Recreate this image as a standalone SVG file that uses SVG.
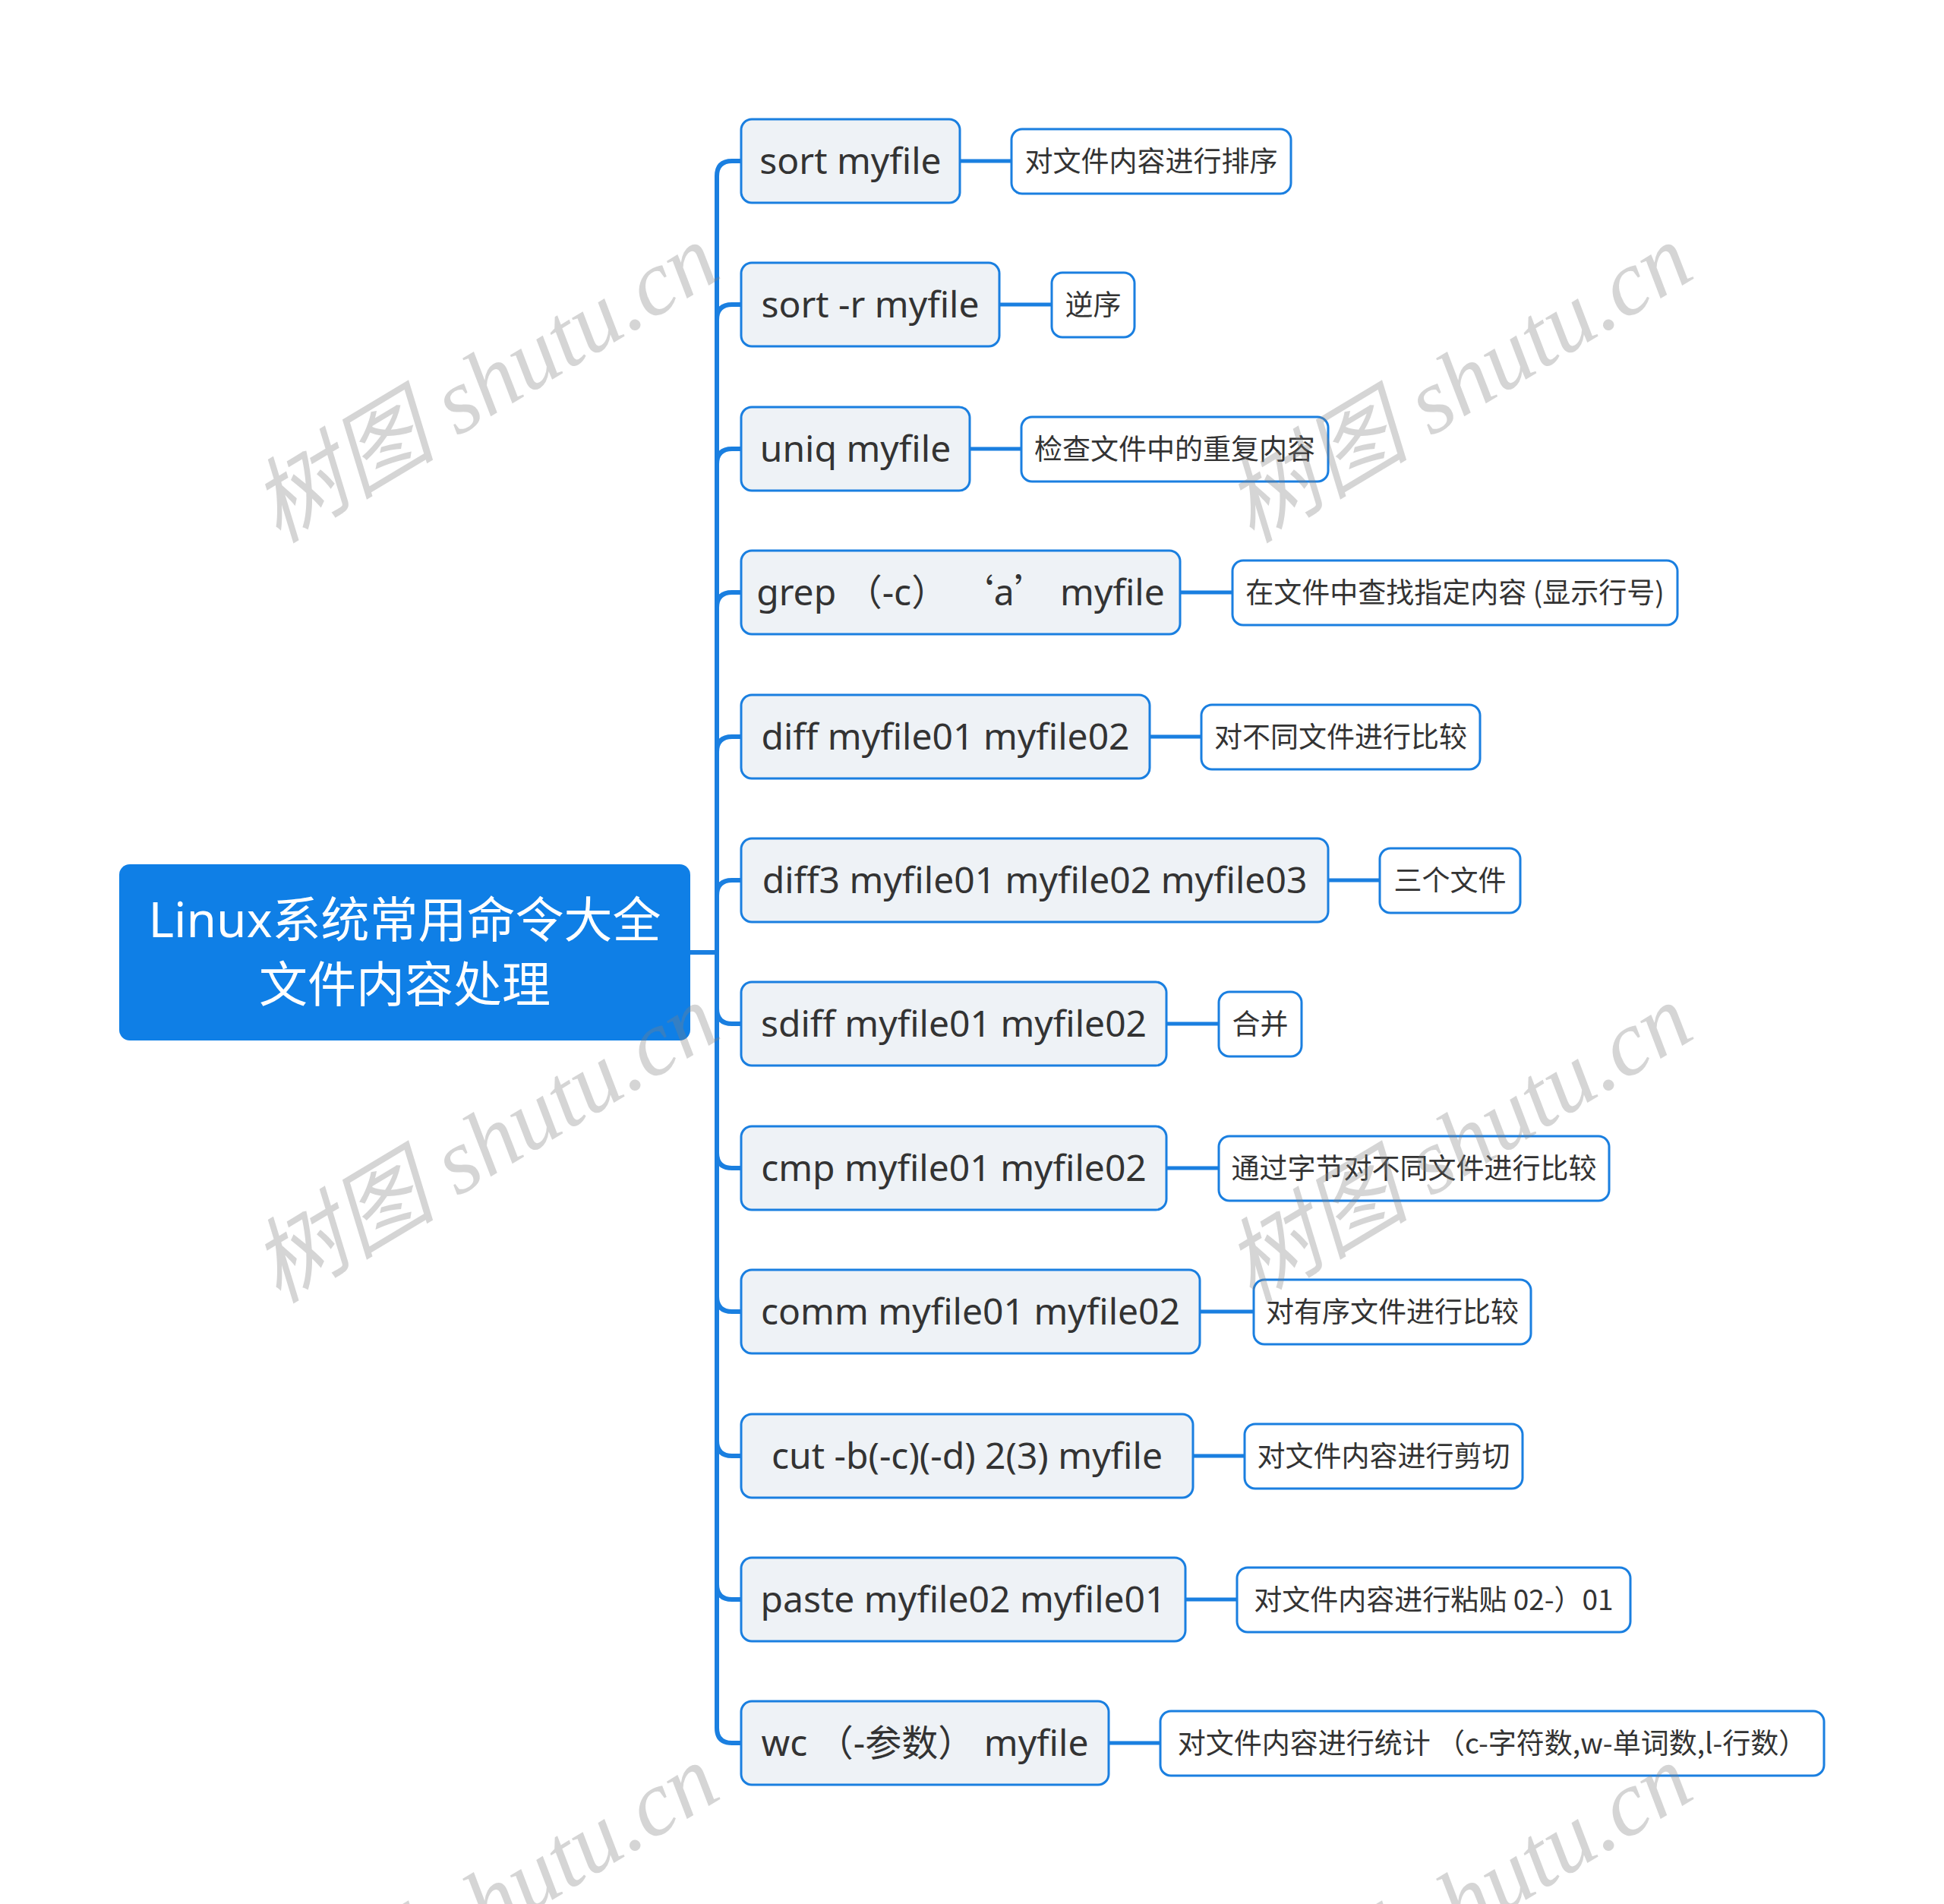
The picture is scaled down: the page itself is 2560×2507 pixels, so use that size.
<svg xmlns="http://www.w3.org/2000/svg" width="2560" height="2507" viewBox="0 0 2560 2507">
<style>
.root{fill:#0f7fe6;}
.child{fill:#eef2f6;stroke:#1a7fe0;stroke-width:3;}
.leaf{fill:#ffffff;stroke:#1a7fe0;stroke-width:3;}
.ct{font-family:"Noto Sans","Noto Sans CJK SC",sans-serif;font-size:48px;fill:#333333;text-anchor:middle;}
.lt{font-family:"Noto Sans CJK SC","Noto Sans",sans-serif;font-size:37px;fill:#333333;text-anchor:middle;}
.rt{font-family:"Noto Sans","Noto Sans CJK SC",sans-serif;font-size:64px;fill:#ffffff;text-anchor:middle;}
.q{font-family:"Noto Sans CJK SC",sans-serif;}
.conn path{fill:none;stroke:#1a7fe0;stroke-linecap:round;}
.spine{stroke-width:6;}
.link{stroke-width:5;}
.wm{font-family:"Liberation Serif","Noto Sans CJK SC",serif;font-style:italic;font-size:122px;fill:#808080;fill-opacity:0.33;text-anchor:middle;}
</style>
<rect width="2560" height="2507" fill="#ffffff"/>
<g class="conn" id="connectors">
<path class="spine" d="M909 1254 H944"/>
<path class="spine" d="M944 1254 V232 Q944 212 964 212 H976"/>
<path class="spine" d="M944 1254 V421 Q944 401 964 401 H976"/>
<path class="spine" d="M944 1254 V611 Q944 591 964 591 H976"/>
<path class="spine" d="M944 1254 V800 Q944 780 964 780 H976"/>
<path class="spine" d="M944 1254 V990 Q944 970 964 970 H976"/>
<path class="spine" d="M944 1254 V1179 Q944 1159 964 1159 H976"/>
<path class="spine" d="M944 1254 V1328 Q944 1348 964 1348 H976"/>
<path class="spine" d="M944 1254 V1518 Q944 1538 964 1538 H976"/>
<path class="spine" d="M944 1254 V1707 Q944 1727 964 1727 H976"/>
<path class="spine" d="M944 1254 V1897 Q944 1917 964 1917 H976"/>
<path class="spine" d="M944 1254 V2086 Q944 2106 964 2106 H976"/>
<path class="spine" d="M944 1254 V2275 Q944 2295 964 2295 H976"/>
<path class="link" d="M1264 212 H1332"/>
<path class="link" d="M1316 401 H1385"/>
<path class="link" d="M1277 591 H1345"/>
<path class="link" d="M1554 780 H1623"/>
<path class="link" d="M1514 970 H1582"/>
<path class="link" d="M1749 1159 H1817"/>
<path class="link" d="M1536 1348 H1605"/>
<path class="link" d="M1536 1538 H1605"/>
<path class="link" d="M1580 1727 H1651"/>
<path class="link" d="M1571 1917 H1639"/>
<path class="link" d="M1561 2106 H1629"/>
<path class="link" d="M1460 2295 H1528"/>
</g>
<g id="root">
<rect class="root" x="157" y="1138" width="752" height="232" rx="14"/>
<text class="rt" x="533" y="1234">Linux系统常用命令大全</text>
<text class="rt" x="533" y="1319">文件内容处理</text>
</g>
<g id="n1"><rect class="child" x="976" y="157" width="288" height="110" rx="14"/><text class="ct" x="1120" y="229">sort myfile</text></g>
<g id="n2"><rect class="child" x="976" y="346" width="340" height="110" rx="14"/><text class="ct" x="1146" y="418">sort -r myfile</text></g>
<g id="n3"><rect class="child" x="976" y="536" width="301" height="110" rx="14"/><text class="ct" x="1126.5" y="608">uniq myfile</text></g>
<g id="n4"><rect class="child" x="976" y="725" width="578" height="110" rx="14"/><text class="ct" x="1265" y="797">grep <tspan class="q">（</tspan>-c<tspan class="q">）</tspan> <tspan class="q">‘</tspan>a<tspan class="q">’</tspan> myfile</text></g>
<g id="n5"><rect class="child" x="976" y="915" width="538" height="110" rx="14"/><text class="ct" x="1245" y="987">diff myfile01 myfile02</text></g>
<g id="n6"><rect class="child" x="976" y="1104" width="773" height="110" rx="14"/><text class="ct" x="1362.5" y="1176">diff3 myfile01 myfile02 myfile03</text></g>
<g id="n7"><rect class="child" x="976" y="1293" width="560" height="110" rx="14"/><text class="ct" x="1256" y="1365">sdiff myfile01 myfile02</text></g>
<g id="n8"><rect class="child" x="976" y="1483" width="560" height="110" rx="14"/><text class="ct" x="1256" y="1555">cmp myfile01 myfile02</text></g>
<g id="n9"><rect class="child" x="976" y="1672" width="604" height="110" rx="14"/><text class="ct" x="1278" y="1744">comm myfile01 myfile02</text></g>
<g id="n10"><rect class="child" x="976" y="1862" width="595" height="110" rx="14"/><text class="ct" x="1273.5" y="1934">cut -b(-c)(-d) 2(3) myfile</text></g>
<g id="n11"><rect class="child" x="976" y="2051" width="585" height="110" rx="14"/><text class="ct" x="1268.5" y="2123">paste myfile02 myfile01</text></g>
<g id="n12"><rect class="child" x="976" y="2240" width="484" height="110" rx="14"/><text class="ct" x="1218" y="2312">wc <tspan class="q">（</tspan>-<tspan class="q">参数）</tspan> myfile</text></g>
<g id="l1"><rect class="leaf" x="1332" y="170" width="368" height="85" rx="14"/><text class="lt" x="1516" y="226">对文件内容进行排序</text></g>
<g id="l2"><rect class="leaf" x="1385" y="359" width="109" height="85" rx="14"/><text class="lt" x="1439.5" y="415">逆序</text></g>
<g id="l3"><rect class="leaf" x="1345" y="549" width="404" height="85" rx="14"/><text class="lt" x="1547" y="605">检查文件中的重复内容</text></g>
<g id="l4"><rect class="leaf" x="1623" y="738" width="586" height="85" rx="14"/><text class="lt" x="1916" y="794">在文件中查找指定内容 (显示行号)</text></g>
<g id="l5"><rect class="leaf" x="1582" y="928" width="367" height="85" rx="14"/><text class="lt" x="1765.5" y="984">对不同文件进行比较</text></g>
<g id="l6"><rect class="leaf" x="1817" y="1117" width="185" height="85" rx="14"/><text class="lt" x="1909.5" y="1173">三个文件</text></g>
<g id="l7"><rect class="leaf" x="1605" y="1306" width="109" height="85" rx="14"/><text class="lt" x="1659.5" y="1362">合并</text></g>
<g id="l8"><rect class="leaf" x="1605" y="1496" width="514" height="85" rx="14"/><text class="lt" x="1862" y="1552">通过字节对不同文件进行比较</text></g>
<g id="l9"><rect class="leaf" x="1651" y="1685" width="365" height="85" rx="14"/><text class="lt" x="1833.5" y="1741">对有序文件进行比较</text></g>
<g id="l10"><rect class="leaf" x="1639" y="1875" width="366" height="85" rx="14"/><text class="lt" x="1822" y="1931">对文件内容进行剪切</text></g>
<g id="l11"><rect class="leaf" x="1629" y="2064" width="518" height="85" rx="14"/><text class="lt" x="1888" y="2120">对文件内容进行粘贴 02-）01</text></g>
<g id="l12"><rect class="leaf" x="1528" y="2253" width="874" height="85" rx="14"/><text class="lt" x="1965" y="2309">对文件内容进行统计 （c-字符数,w-单词数,l-行数）</text></g>
<g id="watermarks">
<text class="wm" transform="translate(660 540) rotate(-31)">树图 shutu.cn</text>
<text class="wm" transform="translate(1942 540) rotate(-31)">树图 shutu.cn</text>
<text class="wm" transform="translate(660 1541) rotate(-31)">树图 shutu.cn</text>
<text class="wm" transform="translate(1942 1541) rotate(-31)">树图 shutu.cn</text>
<text class="wm" transform="translate(660 2542) rotate(-31)">树图 shutu.cn</text>
<text class="wm" transform="translate(1942 2542) rotate(-31)">树图 shutu.cn</text>
</g>
</svg>
